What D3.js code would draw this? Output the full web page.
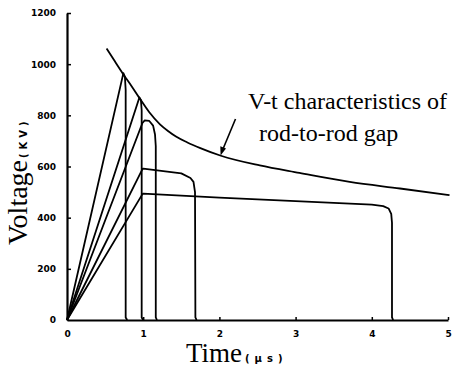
<!DOCTYPE html>
<html>
<head>
<meta charset="utf-8">
<script src="https://cdn.jsdelivr.net/npm/d3@7"></script>
<style>
  html, body { margin: 0; padding: 0; background: #fff; }
  svg { display: block; }
  .tick text { font-family: "DejaVu Sans", sans-serif; font-weight: bold; font-size: 9px; fill: #000; }
</style>
</head>
<body>
<div id="chart"></div>
<script>
const timeTicks = [0, 1, 2, 3, 4, 5];
const voltTicks = [0, 200, 400, 600, 800, 1000, 1200];

// V-t characteristic of the rod-to-rod gap
const vtTime = [0.52, 0.63, 0.74, 0.85, 0.95, 1.08, 1.22, 1.33, 1.43, 1.58, 1.75, 2.02, 2.53, 3.05, 3.71, 4.37, 5.02];
const vtVolt = [1061, 1010, 960, 913, 868, 812, 765, 738, 717, 694, 672, 642, 604, 575, 540, 514, 488];

// chopped impulse waves (time in µs, voltage in kV)
const waves = [
  { t: [0, 0.74, 0.76, 0.77, 0.77, 0.79], v: [0, 965, 950, 900, 10, 0] },
  { t: [0, 0.95, 0.97, 0.98, 0.98, 1.0], v: [0, 870, 860, 820, 10, 0] },
  { t: [0, 0.99, 1.02, 1.08, 1.13, 1.155, 1.165, 1.165, 1.18], v: [0, 770, 780, 778, 760, 725, 680, 10, 0] },
  { t: [0, 0.99, 1.0, 1.5, 1.62, 1.66, 1.68, 1.685, 1.70], v: [0, 590, 592, 573, 555, 540, 500, 10, 0] },
  { t: [0, 0.99, 1.0, 2, 3, 4, 4.15, 4.22, 4.255, 4.265, 4.265, 4.28], v: [0, 492, 494, 478, 465, 451, 445, 436, 415, 380, 10, 0] }
];

const width = 454, height = 372;
const x0 = 67, x1 = 448, y0 = 320, y1 = 13;

const svg = d3.select("#chart").append("svg")
  .attr("width", width)
  .attr("height", height);

svg.append("rect").attr("width", width).attr("height", height).attr("fill", "#fff");

const x = d3.scaleLinear().domain([0, 5]).range([x0, x1]);
const y = d3.scaleLinear().domain([0, 1200]).range([y0, y1]);

// axes
const yAxis = svg.append("g")
  .attr("transform", `translate(${x0},0)`)
  .call(d3.axisLeft(y).tickValues(voltTicks).tickFormat(d3.format("d"))
    .tickSizeInner(-4).tickSizeOuter(0).tickPadding(11));

const xAxis = svg.append("g")
  .attr("transform", `translate(0,${y0})`)
  .call(d3.axisBottom(x).tickValues(timeTicks).tickFormat(d3.format("d"))
    .tickSizeInner(-3).tickSizeOuter(0).tickPadding(11));

[xAxis, yAxis].forEach(a => {
  a.select(".domain").attr("stroke", "#000").attr("stroke-width", 2.2);
  a.selectAll(".tick line").attr("stroke", "#000").attr("stroke-width", 1.5);
});
xAxis.selectAll(".tick").filter(d => d === 0).select("line").remove();
yAxis.selectAll(".tick").filter(d => d === 0).select("line").remove();

// waves
const line = d3.line().x(d => x(d[0])).y(d => y(d[1]));

svg.append("g").selectAll("path.wave")
  .data(waves)
  .join("path")
  .attr("class", "wave")
  .attr("d", w => line(w.t.map((t, i) => [t, w.v[i]])))
  .attr("fill", "none")
  .attr("stroke", "#000")
  .attr("stroke-width", 1.8)
  .attr("stroke-linejoin", "round");

// V-t curve
svg.append("path")
  .attr("d", line.curve(d3.curveMonotoneX)(vtTime.map((t, i) => [t, vtVolt[i]])))
  .attr("fill", "none")
  .attr("stroke", "#000")
  .attr("stroke-width", 1.8);

// annotation
const note = svg.append("g")
  .attr("font-family", "'Liberation Serif', 'Times New Roman', serif")
  .attr("font-size", 24)
  .attr("fill", "#000");
note.append("text").attr("x", 248).attr("y", 109).text("V-t characteristics of");
note.append("text").attr("x", 259).attr("y", 141).text("rod-to-rod gap");

svg.append("line")
  .attr("x1", 235.5).attr("y1", 119)
  .attr("x2", 223).attr("y2", 149)
  .attr("stroke", "#000").attr("stroke-width", 1.6);
svg.append("path")
  .attr("d", "M220.6,155.6 L220.3,146.2 L226.0,148.6 Z")
  .attr("fill", "#000");

// axis titles
const yTitle = svg.append("text")
  .attr("transform", "translate(27,245) rotate(-90)")
  .attr("font-family", "'Liberation Serif', 'Times New Roman', serif")
  .attr("font-size", 28)
  .attr("fill", "#000");
yTitle.append("tspan").text("Voltage");
yTitle.append("tspan")
  .attr("dx", 2)
  .attr("font-family", "'DejaVu Sans', sans-serif")
  .attr("font-weight", "bold")
  .attr("font-size", 10)
  .attr("letter-spacing", 4)
  .text("(KV)");

const xTitle = svg.append("text")
  .attr("x", 186).attr("y", 362)
  .attr("font-family", "'Liberation Serif', 'Times New Roman', serif")
  .attr("font-size", 27)
  .attr("fill", "#000");
xTitle.append("tspan").text("Time");
xTitle.append("tspan")
  .attr("dx", 3)
  .attr("font-family", "'DejaVu Sans', sans-serif")
  .attr("font-weight", "bold")
  .attr("font-size", 10)
  .attr("letter-spacing", 5)
  .text("(μs)");
</script>
</body>
</html>
